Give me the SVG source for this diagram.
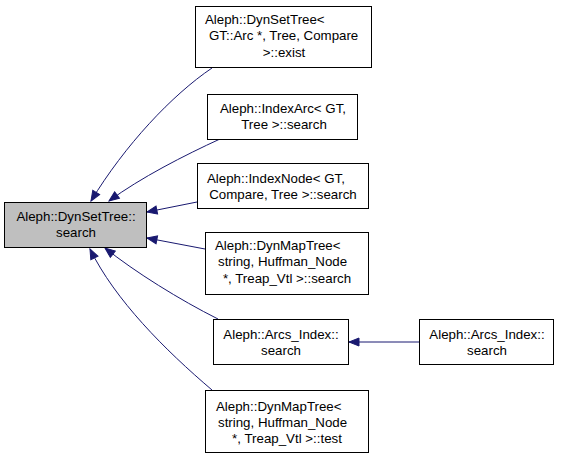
<svg xmlns="http://www.w3.org/2000/svg" width="563" height="459" viewBox="0 0 563 459">
<defs>
<style>
.n rect{fill:#ffffff;stroke:#000000;stroke-width:1}
.n.main rect{fill:#bfbfbf}
text{font-family:"Liberation Sans",Arial,Helvetica,sans-serif;font-size:13.3px;fill:#000000}
.c{text-anchor:middle}
.e path{fill:none;stroke:#191970;stroke-width:1;marker-end:url(#ah)}
</style>
<marker id="ah" markerUnits="userSpaceOnUse" markerWidth="12" markerHeight="10" refX="11" refY="5" orient="auto">
<path d="M1,1 L11,5 L1,9 Z" fill="#191970" stroke="#191970" stroke-width="1"/>
</marker>
</defs>
<rect x="0" y="0" width="563" height="459" fill="#ffffff"/>
<g id="edges" class="e">
<path d="M212,68 C172,95 125,145 91,201"/>
<path d="M220,139 C185,155 140,178 109,201"/>
<path d="M197,202 L147,212"/>
<path d="M205,249 L147,238"/>
<path d="M218,319 C180,300 135,272 105,248"/>
<path d="M212,390 C165,350 115,300 90,249"/>
<path d="M419,342 L349,342"/>
</g>
<g id="node_main" class="n main">
<rect x="4.5" y="202.5" width="142" height="45"/>
<text class="c" x="76" y="221">Aleph::DynSetTree::</text>
<text class="c" x="76" y="237">search</text>
</g>
<g id="node_exist" class="n">
<rect x="195.5" y="6.5" width="176" height="61"/>
<text x="205" y="24">Aleph::DynSetTree&lt;</text>
<text x="209" y="40"> GT::Arc *, Tree, Compare</text>
<text class="c" x="284" y="57">&gt;::exist</text>
</g>
<g id="node_indexarc" class="n">
<rect x="207.5" y="94.5" width="150" height="45"/>
<text x="220" y="113">Aleph::IndexArc&lt; GT,</text>
<text class="c" x="284" y="129">Tree &gt;::search</text>
</g>
<g id="node_indexnode" class="n">
<rect x="197.5" y="163.5" width="171" height="45"/>
<text x="207" y="183">Aleph::IndexNode&lt; GT,</text>
<text class="c" x="283" y="199">Compare, Tree &gt;::search</text>
</g>
<g id="node_dynmap_search" class="n">
<rect x="205.5" y="232.5" width="163" height="62"/>
<text x="215" y="250">Aleph::DynMapTree&lt;</text>
<text x="218" y="266">string, Huffman_Node</text>
<text class="c" x="287" y="283">*, Treap_Vtl &gt;::search</text>
</g>
<g id="node_arcs_index" class="n">
<rect x="213.5" y="319.5" width="135" height="45"/>
<text class="c" x="281" y="339">Aleph::Arcs_Index::</text>
<text class="c" x="281" y="355">search</text>
</g>
<g id="node_dynmap_test" class="n">
<rect x="205.5" y="390.5" width="163" height="62"/>
<text x="216" y="411">Aleph::DynMapTree&lt;</text>
<text x="218" y="427">string, Huffman_Node</text>
<text class="c" x="287" y="443">*, Treap_Vtl &gt;::test</text>
</g>
<g id="node_arcs_index_right" class="n">
<rect x="419.5" y="319.5" width="134" height="45"/>
<text class="c" x="487" y="339">Aleph::Arcs_Index::</text>
<text class="c" x="487" y="355">search</text>
</g>
</svg>
